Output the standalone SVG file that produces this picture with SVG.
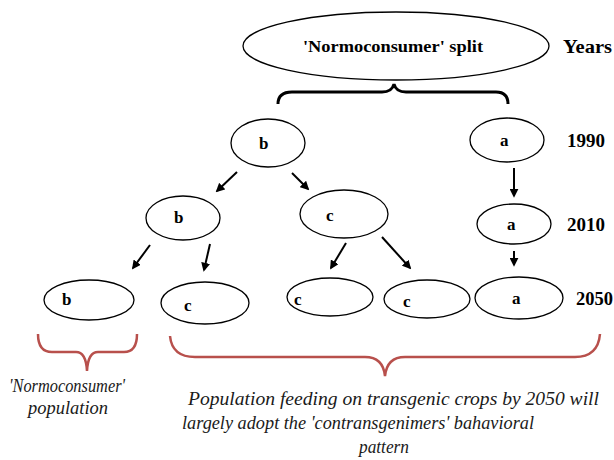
<svg xmlns="http://www.w3.org/2000/svg" width="614" height="460" viewBox="0 0 614 460" font-family="Liberation Serif, Times New Roman, DejaVu Serif, serif">
<style>
.n{fill:#fff;stroke:#000;stroke-width:1.3}
.lb{font-family:"Liberation Serif","DejaVu Serif",serif;font-weight:bold;font-size:17px;fill:#000}
.yr{font-family:"Liberation Serif","DejaVu Serif",serif;font-weight:bold;font-size:18px;fill:#000}
.it{font-family:"Liberation Serif","DejaVu Serif",serif;font-style:italic;font-size:19px;fill:#1a1a1a}
.ar{stroke:#000;stroke-width:2;fill:none;marker-end:url(#ah)}
.rb{stroke:#b8504c;stroke-width:2.5;fill:none}
</style>
<defs>
<marker id="ah" viewBox="0 0 10 10" refX="8" refY="5" markerWidth="4.5" markerHeight="4.5" orient="auto" markerUnits="strokeWidth">
<path d="M0,0 L10,5 L0,10 z" fill="#000"/>
</marker>
</defs>
<g id="split">
<ellipse class="n" cx="396" cy="46" rx="153" ry="34"/>
<text class="lb" x="303" y="52" font-size="18" textLength="180" lengthAdjust="spacingAndGlyphs">'Normoconsumer' split</text>
</g>
<g id="years-labels">
<text class="yr" x="563" y="53" textLength="49" lengthAdjust="spacingAndGlyphs">Years</text>
<text class="yr" x="567" y="147" textLength="38" lengthAdjust="spacingAndGlyphs">1990</text>
<text class="yr" x="567" y="231" textLength="38" lengthAdjust="spacingAndGlyphs">2010</text>
<text class="yr" x="576" y="305" textLength="37" lengthAdjust="spacingAndGlyphs">2050</text>
</g>
<g id="brace-top">
<path d="M278,104 Q278,92 292,92 L382,92 Q392,92 394,84 Q396,92 406,92 L496,92 Q508,92 508,104" fill="none" stroke="#000" stroke-width="3"/>
</g>
<g id="b1990"><ellipse class="n" cx="268" cy="143" rx="37" ry="24"/><text class="lb" x="259" y="149">b</text></g>
<g id="a1990"><ellipse class="n" cx="507" cy="140" rx="37" ry="22"/><text class="lb" x="500" y="146">a</text></g>
<g id="b2010"><ellipse class="n" cx="183" cy="218" rx="37" ry="22"/><text class="lb" x="174" y="223">b</text></g>
<g id="c2010"><ellipse class="n" cx="344" cy="214" rx="44" ry="24"/><text class="lb" x="326" y="221">c</text></g>
<g id="a2010"><ellipse class="n" cx="514" cy="224" rx="37" ry="20"/><text class="lb" x="507" y="230">a</text></g>
<g id="b2050"><ellipse class="n" cx="89" cy="300" rx="45" ry="20"/><text class="lb" x="62" y="305">b</text></g>
<g id="c2050a"><ellipse class="n" cx="205" cy="303" rx="44" ry="21"/><text class="lb" x="184" y="311">c</text></g>
<g id="c2050b"><ellipse class="n" cx="330" cy="297" rx="43" ry="19"/><text class="lb" x="294" y="305">c</text></g>
<g id="c2050c"><ellipse class="n" cx="427" cy="299" rx="43" ry="19"/><text class="lb" x="403" y="307">c</text></g>
<g id="a2050"><ellipse class="n" cx="519" cy="298" rx="44" ry="21"/><text class="lb" x="512" y="304">a</text></g>
<g id="connectors">
<path class="ar" d="M237,172 L217,191"/>
<path class="ar" d="M292,173 L308,189"/>
<path class="ar" d="M514,168 L514,196"/>
<path class="ar" d="M150,245 L133,268"/>
<path class="ar" d="M210,244 L204,270"/>
<path class="ar" d="M346,243 L331,268"/>
<path class="ar" d="M382,237 L410,268"/>
<path class="ar" d="M514,251 L514,265"/>
</g>
<g id="red-braces">
<path class="rb" d="M38,334 Q38,352 52,352 L76,352 Q86,352 87,371 Q88,352 98,352 L124,352 Q137,352 137,334"/>
<path class="rb" d="M170,336 Q172,357 195,357 L365,357 Q383,357 385,376 Q387,357 405,357 L575,357 Q598,357 600,334"/>
</g>
<g id="captions">
<text class="it" x="9" y="392" textLength="116" lengthAdjust="spacingAndGlyphs">'Normoconsumer'</text>
<text class="it" x="28" y="414" textLength="80" lengthAdjust="spacingAndGlyphs">population</text>
<text class="it" x="188" y="405" textLength="411" lengthAdjust="spacingAndGlyphs">Population feeding on transgenic crops by 2050 will</text>
<text class="it" x="182" y="429" textLength="352" lengthAdjust="spacingAndGlyphs">largely adopt the 'contransgenimers' bahavioral</text>
<text class="it" x="359" y="453" textLength="50" lengthAdjust="spacingAndGlyphs">pattern</text>
</g>
</svg>
